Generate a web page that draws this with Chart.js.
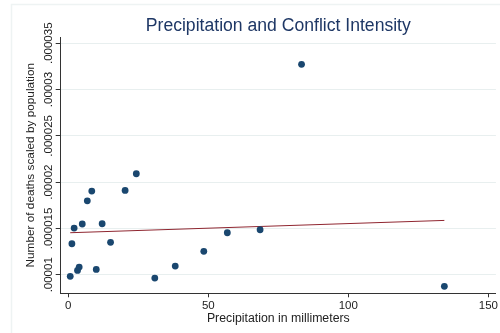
<!DOCTYPE html>
<html lang="en">
<head>
    <meta charset="UTF-8">
    <title>Precipitation and Conflict Intensity</title>
    <script src="https://cdn.jsdelivr.net/npm/chart.js"></script>
    <style>
        html, body { margin: 0; padding: 0; background: #fff; }
        #wrap { width: 500px; height: 333px; position: relative; }
    </style>
</head>
<body>
    <div id="wrap"><canvas id="scatterChart"></canvas></div>

    <script>
        // values
        const precipitation = [0.7, 1.3, 2.1, 3.3, 3.9, 5.0, 6.8, 8.4, 10.0, 12.1, 15.1, 20.3, 24.3, 30.9, 38.2, 48.4, 56.8, 68.5, 83.3, 134.3];
        const deaths = [9.83e-6, 13.35e-6, 15.04e-6, 10.47e-6, 10.83e-6, 15.48e-6, 17.99e-6, 19.04e-6, 10.58e-6, 15.51e-6,
            13.50e-6, 19.11e-6, 20.91e-6, 9.64e-6, 10.94e-6, 12.53e-6, 14.54e-6, 14.86e-6, 32.72e-6, 8.75e-6];

        // fitted line end points
        const fitX = [0.7, 134.3];
        const fitY = [14.54e-6, 15.87e-6];

        const xTicks = [0, 50, 100, 150];
        const yTicks = [10e-6, 15e-6, 20e-6, 25e-6, 30e-6, 35e-6];
        const yTickLabels = ['.00001', '.000015', '.00002', '.000025', '.00003', '.000035'];

        const font = 'Liberation Sans, Arial, sans-serif';

        // faint outer frame and rotated y tick labels
        const extras = {
            id: 'extras',
            beforeDraw(chart) {
                const ctx = chart.ctx;
                ctx.save();
                ctx.strokeStyle = '#eef3f3';
                ctx.lineWidth = 1.5;
                ctx.beginPath();
                ctx.moveTo(11.5, 333);
                ctx.lineTo(11.5, 4.5);
                ctx.lineTo(500, 4.5);
                ctx.stroke();
                ctx.restore();
            },
            afterDraw(chart) {
                const ctx = chart.ctx;
                const y = chart.scales.y;
                ctx.save();
                ctx.fillStyle = '#222';
                ctx.font = '11.5px ' + font;
                ctx.textAlign = 'center';
                ctx.textBaseline = 'middle';
                yTicks.forEach(function (v, i) {
                    ctx.save();
                    ctx.translate(49, y.getPixelForValue(v));
                    ctx.rotate(-Math.PI / 2);
                    ctx.fillText(yTickLabels[i], 0, 0);
                    ctx.restore();
                });
                ctx.restore();
            }
        };

        const points = precipitation.map(function (p, i) { return { x: p, y: deaths[i] }; });
        const fitPoints = fitX.map(function (p, i) { return { x: p, y: fitY[i] }; });

        new Chart(document.getElementById('scatterChart'), {
            type: 'scatter',
            data: {
                datasets: [
                    {
                        data: points,
                        backgroundColor: '#1a476f',
                        borderColor: '#1a476f',
                        pointRadius: 3.4,
                        pointBorderWidth: 0,
                        order: 1
                    },
                    {
                        type: 'line',
                        data: fitPoints,
                        borderColor: '#8f2630',
                        borderWidth: 1,
                        pointRadius: 0,
                        fill: false,
                        order: 2
                    }
                ]
            },
            options: {
                responsive: true,
                maintainAspectRatio: false,
                animation: false,
                layout: { padding: { left: 0, right: 2.5, top: 0, bottom: 7 } },
                plugins: {
                    legend: { display: false },
                    tooltip: { enabled: false },
                    title: {
                        display: true,
                        fullSize: false,
                        text: 'Precipitation and Conflict Intensity',
                        color: '#1e3765',
                        font: { family: font, size: 17.6, weight: 'normal' },
                        padding: { top: 16, bottom: 0 }
                    }
                },
                scales: {
                    x: {
                        type: 'linear',
                        min: -2.7,
                        max: 152.7,
                        afterBuildTicks(scale) { scale.ticks = xTicks.map(function (v) { return { value: v }; }); },
                        afterFit(scale) { scale.height = 32.7; },
                        grid: { drawOnChartArea: false, tickLength: 4, tickColor: '#333' },
                        border: { color: '#333', width: 1 },
                        ticks: { color: '#222', padding: 2, font: { family: font, size: 11.5 } },
                        title: {
                            display: true,
                            text: 'Precipitation in millimeters',
                            color: '#222',
                            font: { family: font, size: 12.3 },
                            padding: { top: 0, bottom: 0 }
                        }
                    },
                    y: {
                        type: 'linear',
                        min: 8.0e-6,
                        max: 35.66e-6,
                        afterBuildTicks(scale) { scale.ticks = yTicks.map(function (v) { return { value: v }; }); },
                        afterFit(scale) { scale.width = 60.7; },
                        grid: { color: '#e8efef', tickLength: 5, tickColor: '#333' },
                        border: { color: '#333', width: 1 },
                        ticks: { display: false },
                        title: {
                            display: true,
                            text: 'Number of deaths scaled by population',
                            color: '#222',
                            font: { family: font, size: 11.8 },
                            padding: { top: 24, bottom: 0 }
                        }
                    }
                }
            },
            plugins: [extras]
        });
    </script>
</body>
</html>
